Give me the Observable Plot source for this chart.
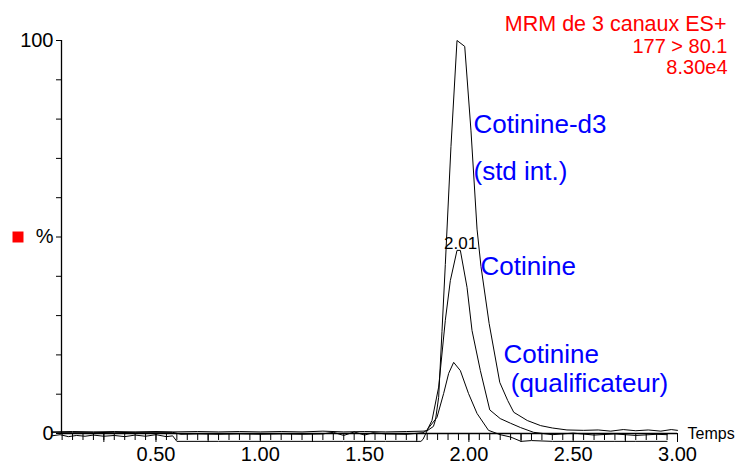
<!DOCTYPE html>
<html>
<head>
<meta charset="utf-8">
<script src="https://cdn.jsdelivr.net/npm/d3@7"></script>
<script src="https://cdn.jsdelivr.net/npm/@observablehq/plot@0.6"></script>
<style>
  html, body { margin: 0; padding: 0; background: #fff; }
</style>
</head>
<body>
<div id="chart"></div>
<script>
// ---- Data ----
// Cotinine-d3 (std int.) trace
const d3Time = [0.00,0.10,0.20,0.30,0.40,0.50,0.58,0.70,0.80,0.90,1.00,1.10,1.20,1.30,1.40,1.50,1.60,1.70,1.78,
  1.80,1.83,1.84,1.855,1.871,1.887,1.914,1.943,1.980,2.010,2.039,2.058,2.097,2.148,2.186,2.215,2.240,2.280,2.344,2.400,2.470,2.550,2.620,2.680,2.740,2.800,2.860,2.920,2.970,3.000];
const d3Value = [0.4,0.5,0.4,0.5,0.4,0.5,0.4,0.5,0.4,0.5,0.4,0.5,0.4,0.6,0.4,0.5,0.4,0.5,0.6,
  0.7,1.8,3.5,9.2,26,43,73,100,98.5,77,52,42.5,28,13,8.4,5.4,4.6,3.3,2.0,1.4,0.9,0.8,0.9,0.6,1.0,0.7,0.9,0.6,1.0,0.8];

// Cotinine trace
const cotTime = [0.00,0.10,0.20,0.30,0.40,0.50,0.58,0.62,0.70,0.80,0.90,1.00,1.10,1.20,1.30,1.35,1.40,1.45,1.50,1.54,1.60,1.70,1.78,
  1.80,1.823,1.855,1.887,1.911,1.943,1.959,1.991,2.015,2.055,2.100,2.150,2.200,2.248,2.310,2.400,2.500,2.600,2.700,2.800,2.900,2.950];
const cotValue = [0.3,0.3,0.3,0.2,0.3,0.3,0.3,-0.2,-0.1,-0.2,-0.1,-0.2,-0.1,-0.2,-0.1,0.3,-0.5,0.4,-0.4,0.2,-0.1,-0.2,0.2,
  0.9,3.3,11.8,28.8,38.9,46.6,46.6,37.2,26.2,16,6.0,3.8,2.6,1.5,0.3,-0.3,0.1,-0.4,-0.1,-0.5,-0.2,-0.3];

// Cotinine (qualificateur) trace
const qualTime = [0.00,0.04,0.08,0.12,0.16,0.20,0.25,0.30,0.35,0.40,0.45,0.50,0.55,0.58,0.60,0.80,1.00,1.20,1.40,1.60,1.77,
  1.78,1.805,1.847,1.879,1.903,1.927,1.959,1.998,2.039,2.094,2.150,2.200,2.250,2.300,2.400,2.500,2.600,2.700,2.800,2.950];
const qualValue = [-0.6,-0.3,-0.8,-0.5,-0.7,-0.4,-0.7,-0.5,-0.8,-0.4,-0.7,-0.3,-0.8,-0.6,-2.0,-2.0,-2.0,-2.0,-2.0,-2.0,-2.0,
  -1.5,1.3,4.1,10.2,15.3,18.1,16,10.2,5.1,0.8,-0.3,-0.9,-2.0,-1.8,-2.0,-2.0,-2.0,-2.0,-2.0,-2.0];

const xTickValues = [0.5, 1.0, 1.5, 2.0, 2.5, 3.0];
const xTickLabels = ["0.50", "1.00", "1.50", "2.00", "2.50", "3.00"];
const yTickValues = [0, 10, 20, 30, 40, 50, 60, 70, 80, 90, 100];
const yTickLabels = ["0", "", "", "", "", "%", "", "", "", "", "100"];
const titleLines = ["MRM de 3 canaux ES+", "177 > 80.1", "8.30e4"];
const peakLabel = "2.01";

// ---- Tables ----
const zip = (ts, vs, name) => ts.map((t, i) => ({t, v: vs[i], trace: name}));
const traces = [
  ...zip(d3Time, d3Value, "d3"),
  ...zip(cotTime, cotValue, "cot"),
  ...zip(qualTime, qualValue, "qual")
];
const xStart = 0.047;
const minorTicks = d3.range(1, 61).map(i => i / 20);
const majorTicks = d3.range(1, 13).map(i => i / 4);

const blue = "#0000ff";
const red = "#ff0000";

const chart = Plot.plot({
  width: 738,
  height: 465,
  marginLeft: 61,
  marginRight: 61,
  marginTop: 40,
  marginBottom: 32,
  style: {fontFamily: "'Liberation Sans', Arial, sans-serif", fontSize: "20px", background: "#fff", overflow: "visible", color: "#000"},
  x: {domain: [xStart, 3.0]},
  y: {domain: [0, 100]},
  marks: [
    // axes
    Plot.ruleX([xStart], {y1: 0, y2: 100, stroke: "#000", strokeWidth: 1.3}),
    Plot.ruleY([0], {x1: xStart, x2: 3.0, stroke: "#000", strokeWidth: 1.3}),
    Plot.axisY({ticks: yTickValues, tickSize: 5, tickPadding: 3, fontSize: 20,
      tickFormat: d => yTickLabels[yTickValues.indexOf(d)], label: null}),
    Plot.axisX({ticks: minorTicks, tickSize: 7, tickFormat: () => "", label: null}),
    Plot.axisX({ticks: majorTicks, tickSize: 9, tickFormat: () => "", label: null}),
    Plot.axisX({ticks: xTickValues, tickSize: 0, tickPadding: 13, fontSize: 20,
      tickFormat: d => xTickLabels[xTickValues.indexOf(d)], label: null}),
    Plot.text(["Temps"], {frameAnchor: "bottom-right", text: d => d, dx: 10, textAnchor: "start", lineAnchor: "middle", fontSize: 16, fill: "#000"}),
    // legend swatch and title
    Plot.dot([50], {y: d => d, frameAnchor: "left", dx: -43.5, symbol: "square", r: 6.2, fill: red, stroke: "none"}),
    Plot.text([titleLines[0]], {frameAnchor: "top-right", text: d => d, dx: 49, dy: -25, textAnchor: "end", lineAnchor: "top", fontSize: 21.5, fill: red}),
    Plot.text([titleLines.slice(1).join("\n")], {frameAnchor: "top-right", text: d => d, dx: 50, dy: -3, textAnchor: "end", lineAnchor: "top", lineHeight: 1.08, fontSize: 20, fill: red}),
    // traces
    Plot.line(traces, {x: "t", y: "v", z: "trace", stroke: "#000", strokeWidth: 1, curve: "linear"}),
    // annotations
    Plot.text([peakLabel], {x: () => 1.96, y: () => 48.4, text: d => d, textAnchor: "middle", lineAnchor: "middle", fontSize: 17, fill: "#000"}),
    Plot.text(["Cotinine-d3"], {x: () => 2.022, y: () => 78.7, text: d => d, textAnchor: "start", lineAnchor: "middle", fontSize: 26, fill: blue}),
    Plot.text(["(std int.)"], {x: () => 2.022, y: () => 66.5, text: d => d, textAnchor: "start", lineAnchor: "middle", fontSize: 26, fill: blue}),
    Plot.text(["Cotinine"], {x: () => 2.056, y: () => 42.5, text: d => d, textAnchor: "start", lineAnchor: "middle", fontSize: 26, fill: blue}),
    Plot.text(["Cotinine\n\u00a0(qualificateur)"], {x: () => 2.166, y: () => 23.3, text: d => d, textAnchor: "start", lineAnchor: "top", lineHeight: 1.12, fontSize: 26, fill: blue})
  ]
});
document.getElementById("chart").appendChild(chart);
</script>
</body>
</html>
